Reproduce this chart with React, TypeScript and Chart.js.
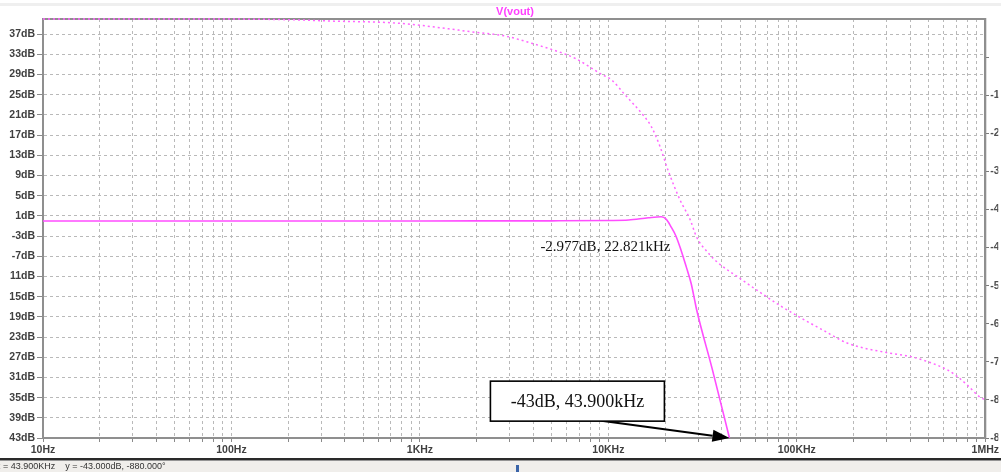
import { useEffect, useRef } from "react";
import { Chart, registerables } from "chart.js";

Chart.register(...registerables);

const W = 1001;
const H = 472;

// Magnitude trace (solid) : frequency in Hz, gain in dB
const GAIN_FREQ = [10, 100, 1000, 5000, 10000, 12800, 16300, 19100, 20300, 21500, 22821, 24300, 25900, 27500, 28700, 29400, 35500, 43900];
const GAIN_DB = [0, 0, 0, 0.02, 0.08, 0.17, 0.62, 0.82, 0.31, -1.16, -2.977, -5.8, -9.1, -12.4, -15.7, -17.6, -29.2, -43];

// Phase trace (dotted) : frequency in Hz, phase in degrees
const PHASE_FREQ = [10, 68, 203, 330, 774, 1977, 2851, 3917, 5921, 6687, 9187, 10400, 12300, 15300, 16900, 18800, 20700, 24000, 27200, 29300, 33800, 38200, 48700, 62200, 79300, 101000, 137000, 186000, 303000, 401000, 506000, 630000, 711000, 803000, 929000, 1000000];
const PHASE_DEG = [0, 0, -1.5, -4.2, -9, -28, -36, -51, -74, -83, -116, -128, -160, -202, -226, -268, -317, -380, -422, -457, -491, -512, -542, -571, -599, -624, -653, -681, -701, -709, -721, -737, -751, -769, -793, -800];

// Axis ticks / labels
const X_DECADES = [10, 100, 1000, 10000, 100000, 1000000];
const X_LABELS = ["10Hz", "100Hz", "1KHz", "10KHz", "100KHz", "1MHz"];
const Y_TICKS = [-43, -39, -35, -31, -27, -23, -19, -15, -11, -7, -3, 1, 5, 9, 13, 17, 21, 25, 29, 33, 37];
const Y_LABELS = ["43dB", "39dB", "35dB", "31dB", "27dB", "23dB", "19dB", "15dB", "11dB", "-7dB", "-3dB", "1dB", "5dB", "9dB", "13dB", "17dB", "21dB", "25dB", "29dB", "33dB", "37dB"];
const PHASE_TICKS = [-880, -800, -720, -640, -560, -480, -400, -320, -240, -160, -80];
const PHASE_LABELS = ["-880°", "-800°", "-720°", "-640°", "-560°", "-480°", "-400°", "-320°", "-240°", "-160°", ""];

// Annotations (in data coordinates)
const TITLE = "V(vout)";
const NOTE_TEXT = "-2.977dB, 22.821kHz";
const NOTE_AT = [9640, -5.2];
const BOX_TEXT = "-43dB, 43.900kHz";
const BOX_AT = [6850, -35.7];
const ARROW_FROM = [9180, -39.6];
const ARROW_TO = [43900, -43];
const STATUS_TEXT = "x = 43.900KHz    y = -43.000dB, -880.000°";

const TRACE = "#ff4dff";
const GRID = "#b9b9b9";
const TICKFONT = { family: "'Liberation Sans', Arial, sans-serif", size: 10.5, weight: "bold" as const };

const X_TICKS: number[] = [];
X_DECADES.forEach((d, i) => {
  if (i === X_DECADES.length - 1) {
    X_TICKS.push(d);
  } else {
    for (let k = 1; k <= 9; k++) X_TICKS.push(d * k);
  }
});

const decor = {
  id: "decor",
  beforeDraw(chart: any) {
    const ctx = chart.ctx;
    ctx.save();
    ctx.fillStyle = "#ffffff";
    ctx.fillRect(0, 0, W, H);
    ctx.fillStyle = "#efefef";
    ctx.fillRect(0, 3, W, 3);
    ctx.restore();
  },
  beforeDatasetsDraw(chart: any) {
    const ctx = chart.ctx;
    const a = chart.chartArea;
    ctx.save();
    ctx.strokeStyle = "#8f8f8f";
    ctx.lineWidth = 2;
    ctx.strokeRect(a.left, a.top, a.right - a.left, a.bottom - a.top);
    ctx.restore();
  },
  afterDraw(chart: any) {
    const ctx = chart.ctx;
    const xs = chart.scales.x;
    const ys = chart.scales.y;
    ctx.save();
    // title
    ctx.fillStyle = "#ff40ff";
    ctx.font = "bold 11px 'Liberation Sans', Arial, sans-serif";
    ctx.textAlign = "center";
    ctx.textBaseline = "middle";
    ctx.fillText(TITLE, 515, 12);

    // note text
    ctx.fillStyle = "#111";
    ctx.font = "15px 'Liberation Serif', 'Times New Roman', serif";
    ctx.fillText(NOTE_TEXT, xs.getPixelForValue(NOTE_AT[0]), ys.getPixelForValue(NOTE_AT[1]));

    // arrow
    const x1 = xs.getPixelForValue(ARROW_FROM[0]);
    const y1 = ys.getPixelForValue(ARROW_FROM[1]);
    const x2 = xs.getPixelForValue(ARROW_TO[0]);
    const y2 = ys.getPixelForValue(ARROW_TO[1]);
    const ang = Math.atan2(y2 - y1, x2 - x1);
    const hl = 17, hw = 6;
    const bx = x2 - hl * Math.cos(ang);
    const by = y2 - hl * Math.sin(ang);
    ctx.strokeStyle = "#000";
    ctx.lineWidth = 2;
    ctx.beginPath();
    ctx.moveTo(x1, y1);
    ctx.lineTo(bx, by);
    ctx.stroke();
    ctx.fillStyle = "#000";
    ctx.beginPath();
    ctx.moveTo(x2, y2);
    ctx.lineTo(bx + hw * Math.sin(ang), by - hw * Math.cos(ang));
    ctx.lineTo(bx - hw * Math.sin(ang), by + hw * Math.cos(ang));
    ctx.closePath();
    ctx.fill();

    // box
    const cx = xs.getPixelForValue(BOX_AT[0]);
    const cy = ys.getPixelForValue(BOX_AT[1]);
    const bw = 174, bh = 40;
    ctx.fillStyle = "#fff";
    ctx.fillRect(cx - bw / 2, cy - bh / 2, bw, bh);
    ctx.strokeStyle = "#000";
    ctx.lineWidth = 1.6;
    ctx.strokeRect(cx - bw / 2, cy - bh / 2, bw, bh);
    ctx.fillStyle = "#111";
    ctx.font = "18px 'Liberation Serif', 'Times New Roman', serif";
    ctx.textAlign = "center";
    ctx.fillText(BOX_TEXT, cx, cy + 1);

    // status bar
    ctx.fillStyle = "#f0eeeb";
    ctx.fillRect(0, 461, W, H - 461);
    ctx.fillStyle = "#2a2a2a";
    ctx.fillRect(0, 458, W, 2.5);
    ctx.fillStyle = "#333";
    ctx.font = "9px 'Liberation Sans', Arial, sans-serif";
    ctx.textAlign = "left";
    ctx.textBaseline = "middle";
    ctx.fillText(STATUS_TEXT, -4, 466.5);
    ctx.fillStyle = "#3b64a8";
    ctx.fillRect(516, 465, 3, 7);
    ctx.restore();
  },
};

export default function App() {
  const ref = useRef<HTMLCanvasElement | null>(null);
  useEffect(() => {
    if (!ref.current) return;
    const chart = new Chart(ref.current, {
      type: "line",
      data: {
        datasets: [
          {
            label: "gain",
            data: GAIN_FREQ.map((f, i) => ({ x: f, y: GAIN_DB[i] })),
            yAxisID: "y",
            borderColor: TRACE,
            borderWidth: 1.6,
            pointRadius: 0,
            cubicInterpolationMode: "monotone",
            clip: false as any,
          },
          {
            label: "phase",
            data: PHASE_FREQ.map((f, i) => ({ x: f, y: PHASE_DEG[i] })),
            yAxisID: "y1",
            borderColor: "#ff66ff",
            borderWidth: 1.5,
            borderDash: [2, 3],
            pointRadius: 0,
            cubicInterpolationMode: "monotone",
            clip: false as any,
          },
        ],
      },
      options: {
        responsive: false,
        animation: false,
        devicePixelRatio: 1,
        layout: { padding: { top: 19, left: 0, right: 0, bottom: 0 } },
        plugins: { legend: { display: false }, title: { display: false }, tooltip: { enabled: false } },
        scales: {
          x: {
            type: "logarithmic",
            min: 10,
            max: 1000000,
            afterBuildTicks: (s: any) => {
              s.ticks = X_TICKS.map((v) => ({ value: v }));
            },
            afterFit: (s: any) => {
              s.height = H - 438;
            },
            ticks: {
              autoSkip: false,
              maxRotation: 0,
              minRotation: 0,
              padding: 2,
              color: "#404040",
              font: TICKFONT,
              callback: (v: any) => {
                const i = X_DECADES.indexOf(Number(v));
                return i >= 0 ? X_LABELS[i] : "";
              },
            },
            grid: { color: GRID, lineWidth: 1, tickLength: 4, tickColor: "#8a8a8a", tickBorderDash: [] },
            border: { display: true, color: "#8f8f8f", width: 2, dash: [3, 3] },
          },
          y: {
            type: "linear",
            position: "left",
            min: -43,
            max: 40,
            afterBuildTicks: (s: any) => {
              s.ticks = Y_TICKS.map((v) => ({ value: v }));
            },
            afterFit: (s: any) => {
              s.width = 43;
            },
            ticks: {
              autoSkip: false,
              padding: 2,
              color: "#404040",
              font: TICKFONT,
              callback: (v: any) => {
                const i = Y_TICKS.indexOf(Number(v));
                return i >= 0 ? Y_LABELS[i] : "";
              },
            },
            grid: { color: GRID, lineWidth: 1, tickLength: 6, tickColor: "#8a8a8a", tickBorderDash: [] },
            border: { display: true, color: "#8f8f8f", width: 2, dash: [3, 3] },
          },
          y1: {
            type: "linear",
            position: "right",
            min: -880,
            max: 0,
            afterBuildTicks: (s: any) => {
              s.ticks = PHASE_TICKS.map((v) => ({ value: v }));
            },
            afterFit: (s: any) => {
              s.width = W - 988;
            },
            ticks: {
              autoSkip: false,
              padding: 0,
              color: "#505050",
              font: TICKFONT,
              callback: (v: any) => {
                const i = PHASE_TICKS.indexOf(Number(v));
                return i >= 0 ? PHASE_LABELS[i] : "";
              },
            },
            grid: { drawOnChartArea: false, drawTicks: true, tickLength: 5, tickColor: "#7a7a7a", tickBorderDash: [3, 2], color: GRID },
            border: { display: true, color: "#8f8f8f", width: 2 },
          },
        },
      },
      plugins: [decor],
    } as any);
    return () => chart.destroy();
  }, []);

  return (
    <div style={{ position: "fixed", left: 0, top: 0, width: W, height: H, background: "#fff" }}>
      <canvas ref={ref} width={W} height={H} style={{ display: "block", width: W, height: H }} />
    </div>
  );
}
